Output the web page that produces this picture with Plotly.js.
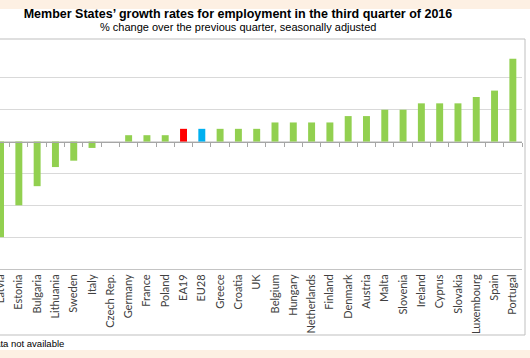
<!DOCTYPE html>
<html><head><meta charset="utf-8">
<script src="https://cdn.plot.ly/plotly-3.0.1.min.js"></script>
<style>
html,body{margin:0;padding:0;}
body{width:530px;height:358px;overflow:hidden;background:linear-gradient(to bottom,#fdf0e3 0px,#fdf0e3 9px,#ffffff 9px,#ffffff 350px,#fdf0e3 350px);}
#chart{width:530px;height:358px;}
</style>
</head><body><div id="chart"></div>
<script>
const countries = ["Latvia","Estonia","Bulgaria","Lithuania","Sweden","Italy","Czech Rep.","Germany","France","Poland","EA19","EU28","Greece","Croatia","UK","Belgium","Hungary","Netherlands","Finland","Denmark","Austria","Malta","Slovenia","Ireland","Cyprus","Slovakia","Luxembourg","Spain","Portugal"];
const growth = [-1.5,-1.0,-0.7,-0.4,-0.3,-0.1,null,0.1,0.1,0.1,0.2,0.2,0.2,0.2,0.2,0.3,0.3,0.3,0.3,0.4,0.4,0.5,0.5,0.6,0.6,0.6,0.7,0.8,1.3];
const titleText = "Member States’ growth rates for employment in the third quarter of 2016";
const subtitleText = "% change over the previous quarter, seasonally adjusted";
const noteText = ": Data not available";

const colorFor = c => c === "EA19" ? "#ff0000" : (c === "EU28" ? "#00b0f0" : "#92d050");
const W = 530, H = 358, ml = 0, mr = 8, mt = 46, mb = 89;
const plotW = W - ml - mr, plotH = H - mt - mb;
const py = px => (H - mb - px) / plotH;
const xRange = [-0.03, 28.5];
const yMin = -2, yMax = 1.5;

const traces = [
  {type:"bar", x:countries, y:growth, marker:{color:countries.map(colorFor)}, width:0.38, hoverinfo:"x+y", showlegend:false},
  {type:"scatter", mode:"markers", x:countries, y:growth, xaxis:"x2", yaxis:"y", marker:{opacity:0}, hoverinfo:"skip", showlegend:false}
];

const layout = {
  width:W, height:H,
  margin:{l:ml, r:mr, t:mt, b:mb},
  paper_bgcolor:"rgba(0,0,0,0)", plot_bgcolor:"rgba(0,0,0,0)",
  font:{family:"Arial, Liberation Sans, sans-serif"},
  title:{text:"<b>"+titleText+"</b>", font:{family:"Arial, Liberation Sans, sans-serif", size:12.5, color:"#000"}, x:238/W, xanchor:"center", xref:"container", y:1-14/H, yref:"container", yanchor:"middle"},
  bargap:0.62,
  xaxis:{type:"category", range:xRange, showgrid:false, zeroline:false, showline:true, linecolor:"#c4c4c4", linewidth:1, ticks:"", tickangle:-90, tickfont:{family:"Lato, Carlito, sans-serif", size:11, color:"#404040"}, fixedrange:true},
  xaxis2:{type:"category", overlaying:"x", anchor:"free", position:(0-yMin)/(yMax-yMin), range:xRange, showgrid:false, zeroline:false, showline:true, linecolor:"#a6a6a6", linewidth:1, ticks:"outside", tickson:"boundaries", ticklen:4, tickcolor:"#a6a6a6", tickwidth:1, showticklabels:false, side:"bottom"},
  yaxis:{range:[yMin,yMax], dtick:0.5, showgrid:true, gridcolor:"#d9d9d9", gridwidth:1, zeroline:false, showline:false, showticklabels:false, ticks:"", fixedrange:true},
  shapes:[
    {type:"rect", xref:"paper", yref:"paper", x0:-0.05, x1:525/plotW, y0:py(335), y1:py(39), line:{color:"#bfbfbf", width:1}, fillcolor:"rgba(0,0,0,0)", layer:"below"}
  ],
  annotations:[
    {text:subtitleText, xref:"paper", yref:"paper", x:237.5/plotW, y:py(26.5), xanchor:"center", yanchor:"middle", showarrow:false, font:{family:"Arial, Liberation Sans, sans-serif", size:11, color:"#000"}},
    {text:noteText, xref:"paper", yref:"paper", x:66/plotW, y:py(343), xanchor:"right", yanchor:"middle", showarrow:false, font:{family:"Arial, Liberation Sans, sans-serif", size:9.5, color:"#000"}}
  ]
};
Plotly.newPlot("chart", traces, layout, {displayModeBar:false, staticPlot:true});
</script>
</body></html>
